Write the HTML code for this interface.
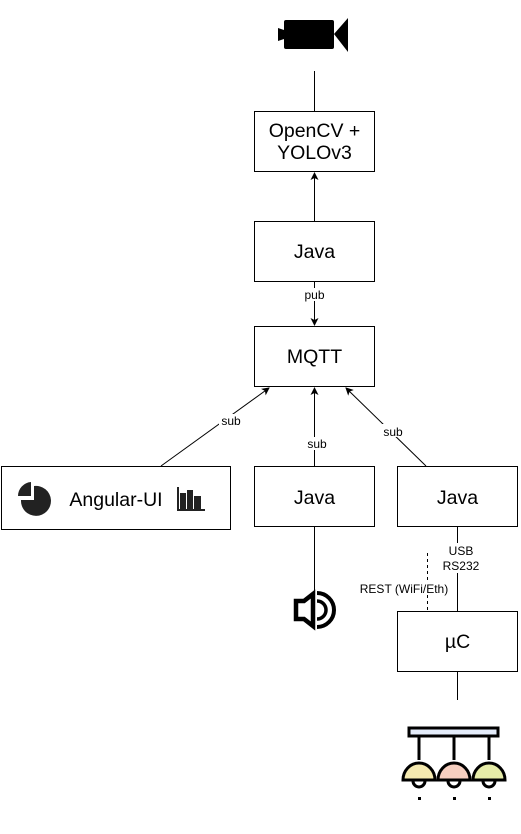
<!DOCTYPE html>
<html><head><style>
body{margin:0;background:#fff}
svg text{font-family:"Liberation Sans",sans-serif}
</style></head><body>
<svg width="521" height="829" xmlns="http://www.w3.org/2000/svg">
<defs><marker id="a" markerWidth="8" markerHeight="8" refX="7" refY="4" orient="auto" markerUnits="userSpaceOnUse"><path d="M0,0 L8,4 L0,8 L2,4z" fill="#000"/></marker></defs>
<g fill="none" stroke="#000" stroke-width="1">
<rect x="254.5" y="111.5" width="120" height="60" fill="#fff"/>
<rect x="254.5" y="221.5" width="120" height="60" fill="#fff"/>
<rect x="254.5" y="326.5" width="120" height="60" fill="#fff"/>
<rect x="1.5" y="466.5" width="229" height="63" fill="#fff"/>
<rect x="254.5" y="466.5" width="120" height="60" fill="#fff"/>
<rect x="397.5" y="466.5" width="120" height="60" fill="#fff"/>
<rect x="397.5" y="611.5" width="120" height="60" fill="#fff"/>
<line x1="314.5" y1="71" x2="314.5" y2="111"/>
<line x1="314.5" y1="221" x2="314.5" y2="173" marker-end="url(#a)"/>
<line x1="314.5" y1="282" x2="314.5" y2="325" marker-end="url(#a)"/>
<line x1="161" y1="466" x2="269" y2="388" marker-end="url(#a)"/>
<line x1="314.5" y1="466" x2="314.5" y2="388" marker-end="url(#a)"/>
<line x1="426" y1="466" x2="346" y2="388" marker-end="url(#a)"/>
<line x1="457.5" y1="527" x2="457.5" y2="611"/>
<line x1="427.5" y1="553" x2="427.5" y2="611" stroke-dasharray="3,3"/>
<line x1="314.5" y1="527" x2="314.5" y2="596"/>
<line x1="457.5" y1="672" x2="457.5" y2="700"/>
</g>
<g font-size="12" text-anchor="middle">
<rect x="302" y="288" width="25" height="13" fill="#fff"/><text x="314.5" y="299">pub</text>
<rect x="219" y="414" width="25" height="13" fill="#fff"/><text x="231" y="425">sub</text>
<rect x="304" y="437" width="25" height="13" fill="#fff"/><text x="317" y="448">sub</text>
<rect x="381" y="424" width="25" height="13" fill="#fff"/><text x="393" y="436">sub</text>
<rect x="446" y="543" width="30" height="30" fill="#fff"/>
<text x="461" y="555">USB</text><text x="461" y="570">RS232</text>
<rect x="358" y="582" width="94" height="13" fill="#fff"/>
<text x="404" y="593">REST (WiFi/Eth)</text>
</g>
<g font-size="19.5" text-anchor="middle">
<text x="314.5" y="137">OpenCV +</text><text x="314.5" y="159">YOLOv3</text>
<text x="314.5" y="258">Java</text>
<text x="314.5" y="363">MQTT</text>
<text x="116" y="506">Angular-UI</text>
<text x="314.5" y="504">Java</text>
<text x="457.5" y="504">Java</text>
<text x="457.5" y="648">µC</text>
</g>
<!-- camera -->
<rect x="284" y="20" width="50" height="29" rx="2" fill="#000"/>
<path d="M278,28 L284,30 L284,39 L278,41z" fill="#000"/>
<path d="M334,34 L348,18 L348,52z" fill="#000"/>
<!-- pie -->
<path d="M34,486 L34,500 L21,500 A15,15 0 1 0 34,486z" fill="#222"/>
<path d="M31,482 L31,496 L18,496 A14,14 0 0 1 31,482z" fill="#222"/>
<!-- bar chart -->
<g fill="#222"><rect x="177" y="487" width="2" height="24"/><rect x="177" y="509" width="28" height="2"/>
<rect x="180" y="493" width="6" height="16"/><rect x="187" y="490" width="6" height="19"/><rect x="194" y="496" width="7" height="13"/></g>
<!-- speaker -->
<path d="M296,601 L304,601 L313,594 L313,626 L304,619 L296,619z" fill="none" stroke="#000" stroke-width="4.5" stroke-linejoin="miter"/>
<path d="M317,601 A9,9 0 0 1 317,619" fill="none" stroke="#000" stroke-width="3.5"/>
<path d="M317,593 A17,17 0 0 1 317,627" fill="none" stroke="#000" stroke-width="4"/>
<!-- lamps -->
<g stroke="#000" stroke-width="3" fill="none">
<rect x="409" y="728" width="89" height="8" fill="#e4ecfa"/>
<line x1="419" y1="737" x2="419" y2="760"/><line x1="454" y1="737" x2="454" y2="760"/><line x1="489" y1="737" x2="489" y2="760"/>
<path d="M403,780 A16,17 0 0 1 435,780z" fill="#f5eab0"/>
<path d="M438,780 A16,17 0 0 1 470,780z" fill="#f6cfc0"/>
<path d="M473,780 A16,17 0 0 1 505,780z" fill="#e6eca8"/>
<path d="M413,781 A6,6 0 0 0 425,781"/><path d="M448,781 A6,6 0 0 0 460,781"/><path d="M483,781 A6,6 0 0 0 495,781"/>
</g>
<g fill="#000"><rect x="418" y="797" width="3" height="3"/><rect x="453" y="797" width="3" height="3"/><rect x="488" y="797" width="3" height="3"/></g>
</svg>
</body></html>
